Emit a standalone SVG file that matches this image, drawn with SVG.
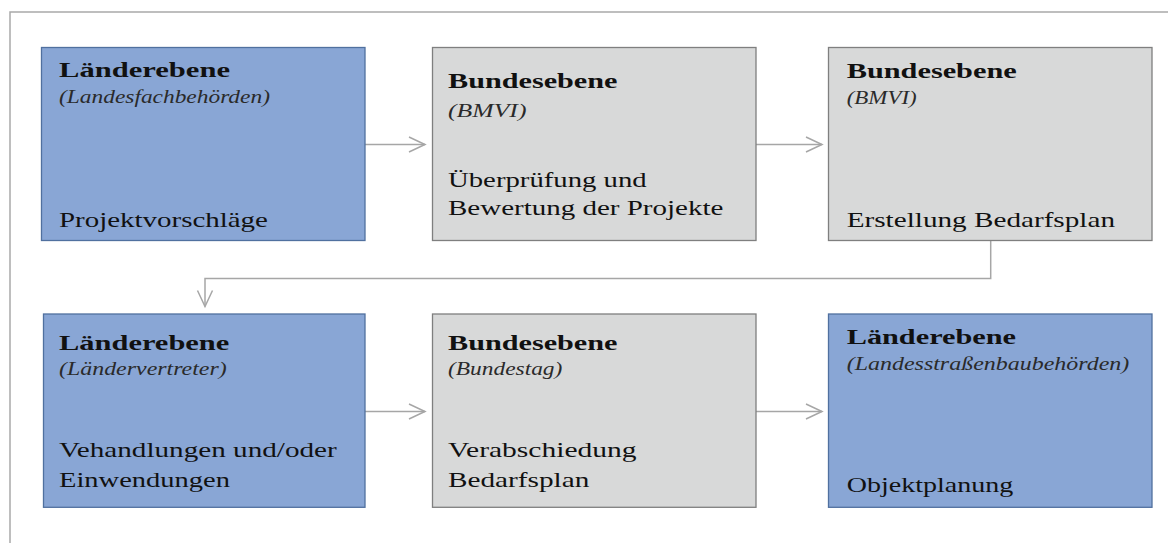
<svg xmlns="http://www.w3.org/2000/svg" width="1168" height="543" viewBox="0 0 1168 543">
  <defs>
    <marker id="chev" markerUnits="userSpaceOnUse" markerWidth="20" markerHeight="20" viewBox="-18 -10 20 20" refX="0" refY="0" orient="auto">
      <path d="M-16,-7.5 L0,0 L-16,7.5" fill="none" stroke="#a6a6a6" stroke-width="1.5"/>
    </marker>
  </defs>
  <style>
    .land { fill: #89a6d5; stroke: #50709f; stroke-width: 1.3; }
    .bund { fill: #d8d9d9; stroke: #7f7f7f; stroke-width: 1.3; }
    text { font-family: "Liberation Serif", "Times New Roman", serif; fill: #111; }
    .title { font-size: 22px; font-weight: bold; }
    .sub { font-size: 19px; font-style: italic; fill: #2a2a2a; }
    .body { font-size: 22px; }
    .conn { fill: none; stroke: #a6a6a6; stroke-width: 1.5; }
  </style>

  <rect width="1168" height="543" fill="#ffffff"/>
  <!-- frame -->
  <path d="M10,543 V12 H1168" fill="none" stroke="#a9a9a9" stroke-width="1.5"/>

  <g id="connectors">
    <path class="conn" d="M365,144.5 H425" marker-end="url(#chev)"/>
    <path class="conn" d="M756,144.5 H822" marker-end="url(#chev)"/>
    <path class="conn" d="M990.7,240.7 V278.5 H205 V306.5" marker-end="url(#chev)"/>
    <path class="conn" d="M365,411.5 H425" marker-end="url(#chev)"/>
    <path class="conn" d="M756,411.5 H822" marker-end="url(#chev)"/>
  </g>

  <!-- text is widened horizontally: translate to baseline origin, then scale x -->
  <g id="node-laender-fach">
    <rect class="land" x="41.5" y="47.5" width="323.5" height="193"/>
    <text class="title" transform="translate(59,77) scale(1.38,1)" textLength="123.9" lengthAdjust="spacingAndGlyphs">Länderebene</text>
    <text class="sub" transform="translate(59,103) scale(1.22,1)" textLength="172.9" lengthAdjust="spacingAndGlyphs">(Landesfachbehörden)</text>
    <text class="body" transform="translate(59,226.5) scale(1.31,1)" textLength="159.5" lengthAdjust="spacingAndGlyphs">Projektvorschläge</text>
  </g>

  <g id="node-bund-pruefung">
    <rect class="bund" x="432.5" y="47.5" width="323.5" height="193"/>
    <text class="title" transform="translate(448,88.3) scale(1.38,1)" textLength="122.8" lengthAdjust="spacingAndGlyphs">Bundesebene</text>
    <text class="sub" transform="translate(448,116.5) scale(1.22,1)" textLength="64.3" lengthAdjust="spacingAndGlyphs">(BMVI)</text>
    <text class="body" transform="translate(448,186.7) scale(1.31,1)" textLength="151.7" lengthAdjust="spacingAndGlyphs">Überprüfung und</text>
    <text class="body" transform="translate(448,215) scale(1.31,1)" textLength="210.2" lengthAdjust="spacingAndGlyphs">Bewertung der Projekte</text>
  </g>

  <g id="node-bund-bedarfsplan">
    <rect class="bund" x="828.5" y="47.5" width="323.5" height="193"/>
    <text class="title" transform="translate(846.7,78.3) scale(1.38,1)" textLength="123.2" lengthAdjust="spacingAndGlyphs">Bundesebene</text>
    <text class="sub" transform="translate(846.7,104) scale(1.22,1)" textLength="57.4" lengthAdjust="spacingAndGlyphs">(BMVI)</text>
    <text class="body" transform="translate(846.7,226.7) scale(1.31,1)" textLength="204.8" lengthAdjust="spacingAndGlyphs">Erstellung Bedarfsplan</text>
  </g>

  <g id="node-laender-vertreter">
    <rect class="land" x="43.5" y="314" width="321.5" height="193.3"/>
    <text class="title" transform="translate(59,350) scale(1.38,1)" textLength="123.4" lengthAdjust="spacingAndGlyphs">Länderebene</text>
    <text class="sub" transform="translate(59,375) scale(1.22,1)" textLength="137.5" lengthAdjust="spacingAndGlyphs">(Ländervertreter)</text>
    <text class="body" transform="translate(59,456.7) scale(1.31,1)" textLength="212" lengthAdjust="spacingAndGlyphs">Vehandlungen und/oder</text>
    <text class="body" transform="translate(59,486.7) scale(1.31,1)" textLength="130.5" lengthAdjust="spacingAndGlyphs">Einwendungen</text>
  </g>

  <g id="node-bundestag">
    <rect class="bund" x="432.5" y="314" width="323.5" height="193.3"/>
    <text class="title" transform="translate(448,350) scale(1.38,1)" textLength="122.8" lengthAdjust="spacingAndGlyphs">Bundesebene</text>
    <text class="sub" transform="translate(448,375) scale(1.22,1)" textLength="93.7" lengthAdjust="spacingAndGlyphs">(Bundestag)</text>
    <text class="body" transform="translate(448,456.7) scale(1.31,1)" textLength="144" lengthAdjust="spacingAndGlyphs">Verabschiedung</text>
    <text class="body" transform="translate(448,486.7) scale(1.31,1)" textLength="107.9" lengthAdjust="spacingAndGlyphs">Bedarfsplan</text>
  </g>

  <g id="node-laender-strassenbau">
    <rect class="land" x="828.5" y="314" width="323.5" height="193.3"/>
    <text class="title" transform="translate(846.7,344) scale(1.38,1)" textLength="122.7" lengthAdjust="spacingAndGlyphs">Länderebene</text>
    <text class="sub" transform="translate(846.7,370) scale(1.22,1)" textLength="231.6" lengthAdjust="spacingAndGlyphs">(Landesstraßenbaubehörden)</text>
    <text class="body" transform="translate(846.7,491.7) scale(1.31,1)" textLength="127.2" lengthAdjust="spacingAndGlyphs">Objektplanung</text>
  </g>
</svg>
